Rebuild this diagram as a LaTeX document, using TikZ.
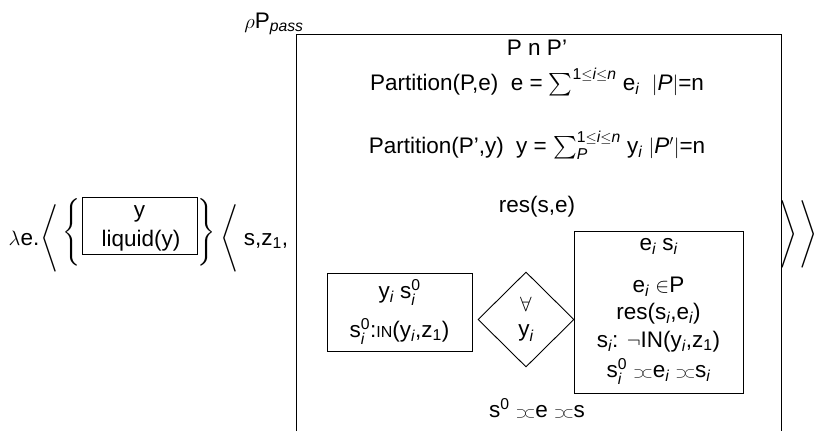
\documentclass[tikz,border=0pt]{standalone}
\usepackage{amsmath,amssymb}
\usepackage{fontspec}
\setmainfont{Liberation Sans}
\usetikzlibrary{shapes.geometric}

\newcommand{\subi}{$_{\textit{i}}$}
\newcommand{\drsmerge}{\ensuremath{\scriptstyle\supset\mkern-3.5mu\subset}}
\newcommand{\tallleft}[2]{$\left#1\vcenter{\hbox{\rule{0pt}{#2}}}\right.$}
\newcommand{\tallright}[2]{$\left.\vcenter{\hbox{\rule{0pt}{#2}}}\right#1$}

\begin{document}
\begin{tikzpicture}[x=1pt, y=-1pt,
    every node/.style={font=\fontsize{22.5}{24}\selectfont, inner sep=0pt},
    txt/.style={anchor=base},
    frame/.style={draw, line width=0.9pt},
    quant/.style={draw, diamond, line width=0.9pt, minimum width=96pt,
      minimum height=95pt, align=center}]
  \useasboundingbox (0,0) rectangle (816,431);
  % lambda term and the liquid box
  \node[txt] (lam) at (24,245) {$\lambda$e.};
  \node (angA) at (50,238) {\tallleft{\langle}{60pt}};
  \node (brcA) at (72,232) {\tallleft{\{}{64pt}};
  \draw[frame] (82,197) rectangle (197,254);
  \node[txt] (liqu) at (139.5,217) {y};
  \node[txt] (liqc) at (141,246) {liquid(y)};
  \node (brcB) at (206,232) {\tallright{\}}{64pt}};
  \node (angB) at (230,238) {\tallleft{\langle}{60pt}};
  \node[txt] (sz) at (266,245) {s,z$_{\text{1}}$,};
  % main box
  \node[txt] (pname) at (274,28) {$\rho$P$_{\textit{pass}}$};
  \draw[frame] (296,431) |- (781,34) -- (781,431);
  \node[txt] (univ) at (537,55) {P n P’};
  \node[txt] (partE) at (537,90)
    {Partition(P,e)\hspace{0.55em}e = $\sum^{\text{1}\leq\textit{i}\leq\textit{n}}$ e\subi\hspace{0.55em}$|$\textit{P}$|$=n};
  \node[txt] (partY) at (537,153)
    {Partition(P’,y)\hspace{0.55em}y = $\sum_{\textit{P}}^{\text{1}\leq\textit{i}\leq\textit{n}}$ y\subi{} $|$\textit{P}$'|$=n};
  \node[txt] (res) at (537,212) {res(s,e)};
  % antecedent box
  \draw[frame] (327,273) rectangle (472,351);
  \node[txt] (antU) at (399.5,298) {y\subi{} s$^{\text{0}}_{\textit{i}}$};
  \node[txt] (antC) at (399.5,337)
    {s$^{\text{0}}_{\textit{i}}$:{\fontsize{16}{16}\selectfont IN}(y\subi,z$_{\text{1}}$)};
  \node[quant] (every) at (526,319.5) {$\forall$\\[1pt]y\subi};
  % consequent box
  \draw[frame] (574,231) rectangle (743,393);
  \node[txt] (conU) at (658.5,250) {e\subi{} s\subi};
  \foreach \n/\y/\lab in {1/292/{e\subi{} $\in$P}, 2/319/{res(s\subi,e\subi)},
      3/347/{s\subi: $\neg$IN(y\subi,z$_{\text{1}}$)},
      4/377/{s$^{\text{0}}_{\textit{i}}$ \drsmerge{}e\subi{} \drsmerge{}s\subi}}
    \node[txt] (cond\n) at (658.5,\y) {\lab};
  \node[txt] (merge) at (537,417) {s$^{\text{0}}$ \drsmerge{}e \drsmerge{}s};
  \node (angC) at (798,234) {\tallright{\rangle}{60pt}\tallright{\rangle}{60pt}};
\end{tikzpicture}
\end{document}
